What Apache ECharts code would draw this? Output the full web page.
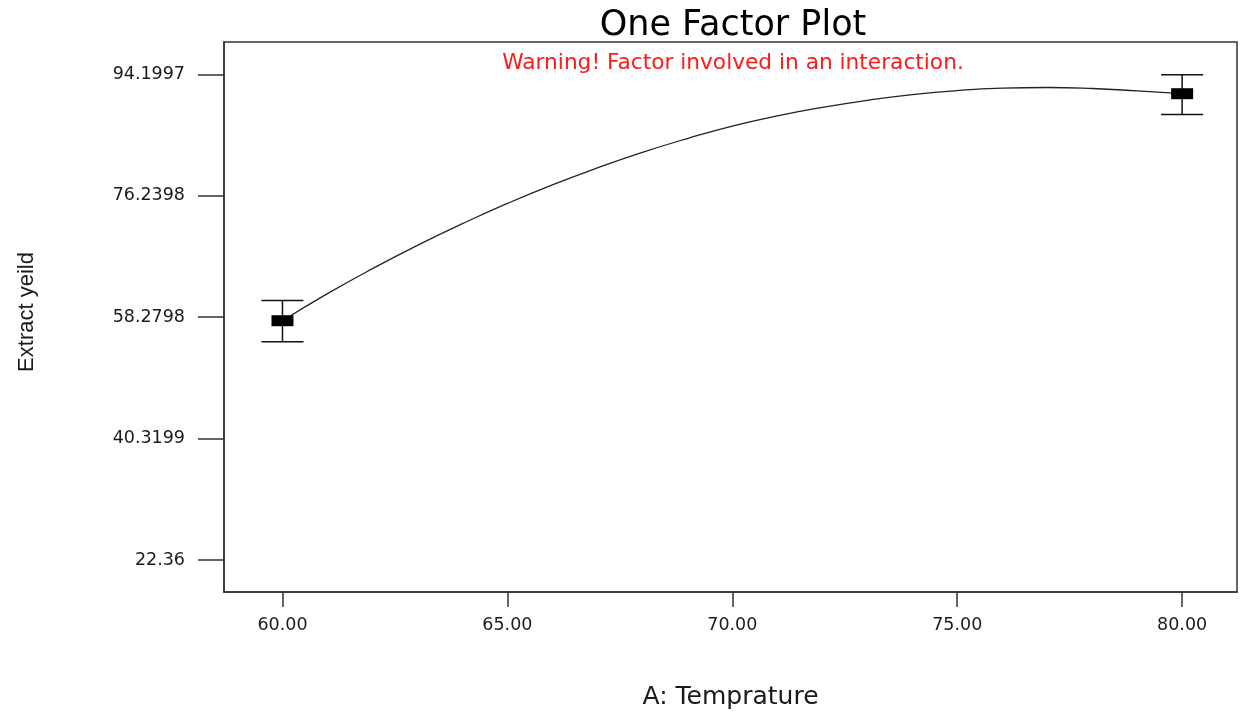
<!DOCTYPE html>
<html>
<head>
<meta charset="utf-8">
<script src="https://cdn.jsdelivr.net/npm/echarts@6/dist/echarts.min.js"></script>
<style>
html,body{margin:0;padding:0;background:#fff;}
#chart{width:1240px;height:713px;}
</style>
</head>
<body>
<div id="chart"></div>
<script>
// ---- data ----
const titleText = 'One Factor Plot';
const warningText = 'Warning! Factor involved in an interaction.';
const xName = 'A: Temprature';
const yName = 'Extract yeild';

const xTickValues = [60, 65, 70, 75, 80];
const yTickValues = [22.36, 40.3199, 58.2798, 76.2398, 94.1997];
const yTickLabels = ['22.36', '40.3199', '58.2798', '76.2398', '94.1997'];

// predicted curve
const curveX = [60, 61, 62, 63, 64, 65, 66, 67, 68, 69, 70, 71, 72, 73, 74, 75, 76, 77, 78, 79, 80];
const curveY = [57.76, 61.76, 65.46, 68.91, 72.11, 75.11, 77.86, 80.36, 82.66, 84.71, 86.56,
                88.06, 89.31, 90.36, 91.21, 91.81, 92.16, 92.26, 92.11, 91.76, 91.34];

// design points with error bars
const pointX = [60, 80];
const pointMean = [57.76, 91.34];
const pointLow = [54.66, 88.28];
const pointHigh = [60.76, 94.16];

// ---- chart ----
const chart = echarts.init(document.getElementById('chart'), null, {renderer: 'canvas'});
const axisColor = '#333333';
const textColor = '#1a1a1a';

const curveData = curveX.map((x, i) => [x, curveY[i]]);
const barData = pointX.map((x, i) => [x, pointMean[i], pointLow[i], pointHigh[i]]);

const option = {
  backgroundColor: '#ffffff',
  animation: false,
  title: [
    {
      text: titleText,
      left: 728, top: 3, textAlign: 'center',
      textStyle: {fontFamily: 'DejaVu Sans', fontSize: 35, fontWeight: 'normal', color: '#000'}
    },
    {
      text: warningText,
      left: 728, top: 47, textAlign: 'center',
      textStyle: {fontFamily: 'DejaVu Sans', fontSize: 21.7, fontWeight: 'normal', color: '#ff1a1a'}
    }
  ],
  grid: {
    left: 224, right: 3, top: 42, bottom: 121,
    outerBoundsMode: 'none', containLabel: false,
    show: true, borderColor: axisColor, borderWidth: 1.5, backgroundColor: 'transparent'
  },
  xAxis: {
    type: 'value',
    min: 58.7, max: 81.22,
    name: xName, nameLocation: 'middle', nameGap: 93,
    nameTextStyle: {fontFamily: 'DejaVu Sans', fontSize: 25, color: textColor},
    axisLine: {show: true, onZero: false, lineStyle: {color: axisColor, width: 1.5}},
    axisTick: {show: true, customValues: xTickValues, length: 15, inside: false, lineStyle: {color: axisColor, width: 1.5}},
    axisLabel: {
      customValues: xTickValues, margin: 24,
      fontFamily: 'DejaVu Sans', fontSize: 17.5, color: textColor,
      formatter: v => Number(v).toFixed(2)
    },
    splitLine: {show: false}
  },
  yAxis: {
    type: 'value',
    min: 17.63, max: 98.99,
    name: yName, nameLocation: 'middle', nameGap: 186, nameRotate: 90,
    nameTextStyle: {fontFamily: 'Liberation Sans', fontSize: 22, color: textColor, padding: [0, 0, 0, 10]},
    axisLine: {show: true, onZero: false, lineStyle: {color: axisColor, width: 1.5}},
    axisTick: {show: true, customValues: yTickValues, length: 26, inside: false, lineStyle: {color: axisColor, width: 1.5}},
    axisLabel: {
      customValues: yTickValues, margin: 39,
      fontFamily: 'DejaVu Sans', fontSize: 17.5, color: textColor,
      formatter: v => {
        const i = yTickValues.findIndex(t => Math.abs(t - v) < 1e-6);
        return i >= 0 ? yTickLabels[i] : '';
      }
    },
    splitLine: {show: false}
  },
  series: [
    {
      type: 'line',
      data: curveData,
      smooth: true,
      showSymbol: false,
      symbol: 'none',
      lineStyle: {color: '#222', width: 1.3},
      z: 2
    },
    {
      type: 'custom',
      data: barData,
      z: 3,
      renderItem: function (params, api) {
        const x = api.value(0);
        const c = api.coord([x, api.value(1)]);
        const lo = api.coord([x, api.value(2)]);
        const hi = api.coord([x, api.value(3)]);
        const capHalf = 21;
        const boxW = 22, boxH = 11;
        const ls = {stroke: '#111', lineWidth: 1.5};
        return {
          type: 'group',
          children: [
            {type: 'line', shape: {x1: c[0], y1: hi[1], x2: c[0], y2: lo[1]}, style: ls},
            {type: 'line', shape: {x1: c[0] - capHalf, y1: hi[1], x2: c[0] + capHalf, y2: hi[1]}, style: ls},
            {type: 'line', shape: {x1: c[0] - capHalf, y1: lo[1], x2: c[0] + capHalf, y2: lo[1]}, style: ls},
            {type: 'rect', shape: {x: c[0] - boxW / 2, y: c[1] - boxH / 2, width: boxW, height: boxH}, style: {fill: '#000'}}
          ]
        };
      }
    }
  ]
};
chart.setOption(option);
</script>
</body>
</html>
